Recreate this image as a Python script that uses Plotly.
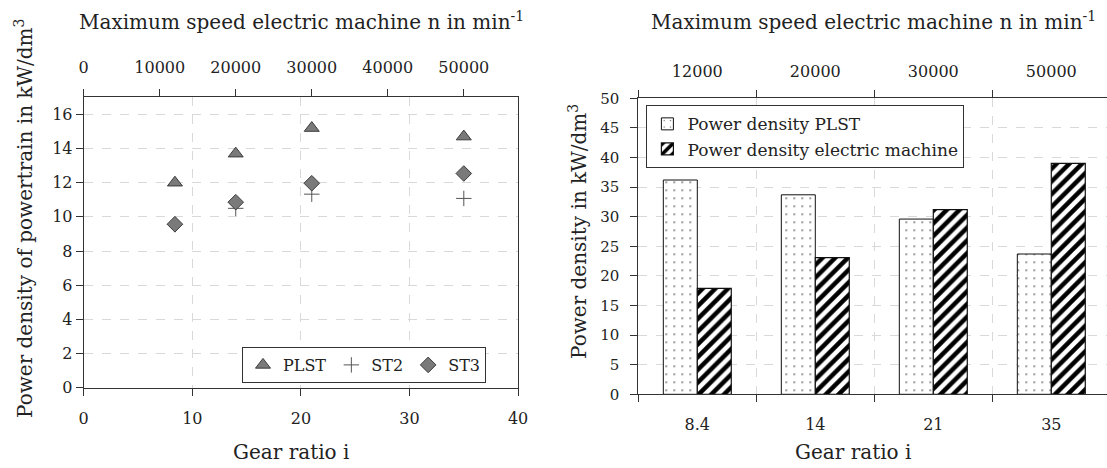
import plotly.graph_objects as go

# ---------------- data ----------------
gear_ratio = [8.4, 14, 21, 35]
max_speed = [12000, 20000, 30000, 50000]
plst = [12.0, 13.7, 15.2, 14.7]
st2 = [9.55, 10.5, 11.33, 11.08]
st3 = [9.57, 10.86, 11.97, 12.54]

gear_labels = ["8.4", "14", "21", "35"]
speed_labels = ["12000", "20000", "30000", "50000"]
pd_plst = [36.2, 33.7, 29.6, 23.7]
pd_em = [17.9, 23.1, 31.2, 39.0]

FONT = "DejaVu Serif"
W, H = 1107, 468
GRID = "#d9d9d9"
LINE = "#333333"


def px(v):
    return v / W


def py(v):
    return 1 - v / H


fig = go.Figure()

# ---------------- left chart ----------------
fig.add_trace(go.Scatter(x=gear_ratio, y=plst, mode="markers", name="PLST",
                         marker=dict(symbol="triangle-up", size=13, color="#7a7a7a",
                                     line=dict(color="#3c3c3c", width=1)),
                         xaxis="x", yaxis="y", legend="legend"))
fig.add_trace(go.Scatter(x=gear_ratio, y=st2, mode="markers", name="ST2",
                         marker=dict(symbol="cross-thin", size=11, color="#555555",
                                     line=dict(color="#555555", width=1)),
                         xaxis="x", yaxis="y", legend="legend"))
fig.add_trace(go.Scatter(x=gear_ratio, y=st3, mode="markers", name="ST3",
                         marker=dict(symbol="diamond", size=12, color="#7a7a7a",
                                     line=dict(color="#3c3c3c", width=1)),
                         xaxis="x", yaxis="y", legend="legend"))
# top speed axis carrier (invisible)
fig.add_trace(go.Scatter(x=max_speed, y=plst, mode="markers", showlegend=False,
                         marker=dict(opacity=0), hoverinfo="skip",
                         xaxis="x2", yaxis="y"))

# ---------------- right chart ----------------
fig.add_trace(go.Bar(x=gear_labels, y=pd_plst, name="Power density PLST",
                     marker=dict(color="white", line=dict(color="#111111", width=1),
                                 pattern=dict(shape=".", fgcolor="#6a6a6a", bgcolor="white",
                                              size=8, solidity=0.04)),
                     xaxis="x3", yaxis="y3", legend="legend2"))
fig.add_trace(go.Bar(x=gear_labels, y=pd_em, name="Power density electric machine",
                     marker=dict(color="white", line=dict(color="#111111", width=1.2),
                                 pattern=dict(shape="/", fgcolor="#000000", bgcolor="white",
                                              size=9, solidity=0.5)),
                     xaxis="x3", yaxis="y3", legend="legend2"))
fig.add_trace(go.Scatter(x=speed_labels, y=pd_plst, mode="markers", showlegend=False,
                         marker=dict(opacity=0), hoverinfo="skip",
                         xaxis="x4", yaxis="y3"))

tickfont = dict(family=FONT, size=16, color="#222222")

# plot frames in screen pixels
LX0, LX1, LYT, LYB = 83.7, 518.1, 97.3, 387.7
RX0, RYT, RYB = 638.3, 98.3, 394.3
CAT = 118.0  # category width in px on the bar chart
r_end = -0.5 + (W - RX0) / CAT

base = dict(showline=True, linecolor=LINE, linewidth=1, ticks="outside", ticklen=7,
            tickcolor=LINE, tickfont=tickfont, zeroline=False, automargin=False)
grid = dict(gridcolor=GRID, griddash="dash", gridwidth=1)

fig.update_layout(
    template="none",
    width=W, height=H, margin=dict(l=0, r=0, t=0, b=0, pad=0, autoexpand=False),
    paper_bgcolor="white", plot_bgcolor="white",
    font=dict(family=FONT, color="#222222"),
    barmode="group", bargap=0.424, bargroupgap=0,
    xaxis=dict(domain=[px(LX0), px(LX1)], range=[0, 40], dtick=10, mirror=True,
               showgrid=True, ticklabelstandoff=9, **base, **grid),
    xaxis2=dict(overlaying="x", side="top", range=[0, 400000 / 7],
                tickvals=[0, 10000, 20000, 30000, 40000, 50000], tickformat="d",
                showgrid=False, ticklabelstandoff=10, **base),
    yaxis=dict(domain=[py(LYB), py(LYT)], range=[0, 17], dtick=2, mirror=True,
               showgrid=True, anchor="x", **base, **grid),
    xaxis3=dict(domain=[px(RX0), 1.0], range=[-0.5, r_end], type="category",
                tickson="boundaries", showgrid=False, anchor="y3",
                ticklabelstandoff=15, **base),
    xaxis4=dict(overlaying="x3", side="top", range=[-0.5, r_end], type="category",
                tickson="boundaries", showgrid=True, anchor="y3",
                ticklabelstandoff=14, **base, **grid),
    yaxis3=dict(domain=[py(RYB), py(RYT)], range=[0, 50], dtick=5, anchor="x3",
                showgrid=True, ticklabelstandoff=8,
                **{**base, "tickfont": dict(family=FONT, size=15, color="#222222")}, **grid),
    legend=dict(orientation="h", x=px(242), y=py(347), xanchor="left", yanchor="top",
                bordercolor=LINE, borderwidth=1, bgcolor="white",
                font=dict(family=FONT, size=16, color="#222222"),
                itemwidth=30, tracegroupgap=0),
    legend2=dict(orientation="v", x=px(646.4), y=py(105.3), xanchor="left", yanchor="top",
                 bordercolor=LINE, borderwidth=1, bgcolor="white",
                 font=dict(family=FONT, size=17, color="#222222"),
                 itemwidth=30),
)

titlefont = dict(family=FONT, size=20, color="#222222")
annots = [
    dict(text="Maximum speed electric machine n in min<sup>-1</sup>", x=px(301), y=py(21)),
    dict(text="Maximum speed electric machine n in min<sup>-1</sup>", x=px(873), y=py(21)),
    dict(text="Gear ratio i", x=px(291), y=py(452)),
    dict(text="Gear ratio i", x=px(853), y=py(452)),
    dict(text="Power density of powertrain in kW/dm<sup>3</sup>", x=px(24), y=py(218), textangle=-90),
    dict(text="Power density in kW/dm<sup>3</sup>", x=px(578), y=py(232), textangle=-90),
]
for a in annots:
    fig.add_annotation(xref="paper", yref="paper", showarrow=False,
                       xanchor="center", yanchor="middle", font=titlefont, **a)

fig.write_html("out.html")
